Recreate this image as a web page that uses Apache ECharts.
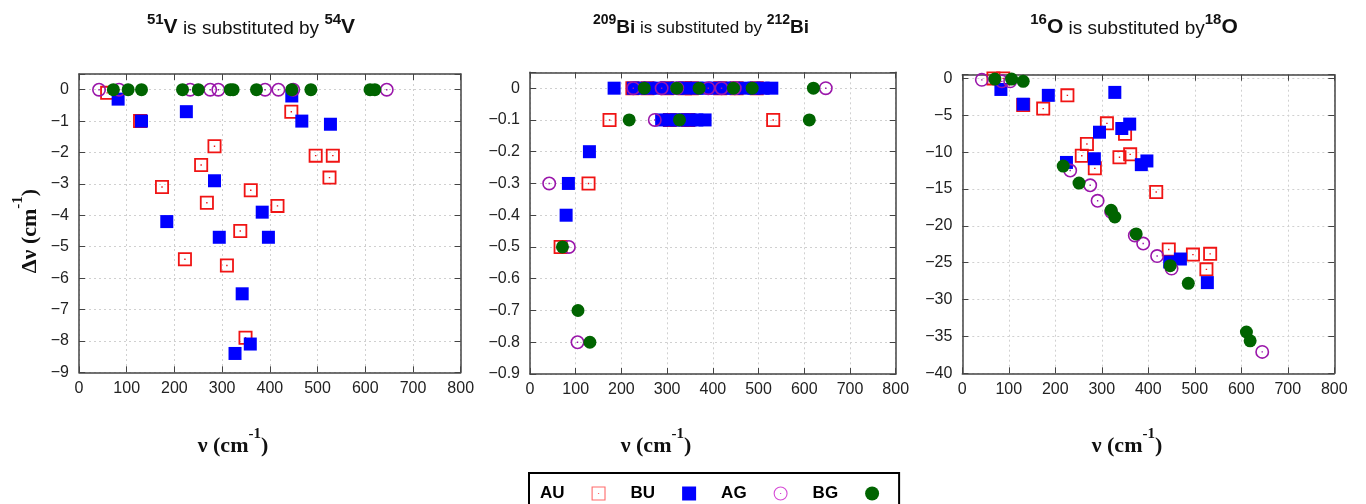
<!DOCTYPE html>
<html><head><meta charset="utf-8">
<script src="https://cdn.jsdelivr.net/npm/echarts@6/dist/echarts.min.js"></script>
<style>html,body{margin:0;padding:0;background:#fff}#c{width:1366px;height:504px}</style>
</head><body><div id="c"></div>
<script>
// ---------- data (x = ν in cm^-1, y = Δν in cm^-1) ----------
const seriesNames = ['AU', 'BU', 'AG', 'BG'];
const xTickValues = [0, 100, 200, 300, 400, 500, 600, 700, 800];

// Panel 1: 51V -> 54V
const V_AU = [[59,-0.1],[128,-1.0],[174,-3.1],[222,-5.4],[256,-2.4],[268,-3.6],[284,-1.8],[310,-5.6],[338,-4.5],[349,-7.9],[360,-3.2],[416,-3.7],[445,-0.7],[496,-2.1],[525,-2.8],[532,-2.1]];
const V_BU = [[82,-0.3],[131,-1.0],[184,-4.2],[225,-0.7],[284,-2.9],[294,-4.7],[327,-8.4],[342,-6.5],[359,-8.1],[384,-3.9],[397,-4.7],[446,-0.2],[467,-1.0],[527,-1.1]];
const V_AG = [[42,0],[84,0],[233,0],[275,0],[292,0],[390,0],[418,0],[449,0],[645,0]];
const V_BG = [[72,0],[103,0],[131,0],[217,0],[250,0],[317,0],[323,0],[372,0],[446,0],[486,0],[610,0],[620,0]];

// Panel 2: 209Bi -> 212Bi
const Bi_AU = [[224,0],[257,0],[300,0],[339,0],[354,0],[416,0],[452,0],[496,0],[174,-0.1],[306,-0.1],[346,-0.1],[532,-0.1],[128,-0.3],[67,-0.5]];
const Bi_BU = [[184,0],[226,0],[240,0],[262,0],[282,0],[300,0],[322,0],[340,0],[365,0],[385,0],[405,0],[425,0],[445,0],[470,0],[490,0],[510,0],[529,0],[288,-0.1],[305,-0.1],[320,-0.1],[335,-0.1],[350,-0.1],[365,-0.1],[383,-0.1],[130,-0.2],[84,-0.3],[79,-0.4]];
const Bi_AG = [[226,0],[288,0],[322,0],[390,0],[419,0],[448,0],[647,0],[273,-0.1],[42,-0.3],[85,-0.5],[104,-0.8]];
const Bi_BG = [[250,0],[321,0],[370,0],[445,0],[486,0],[620,0],[217,-0.1],[327,-0.1],[611,-0.1],[71,-0.5],[105,-0.7],[131,-0.8]];

// Panel 3: 16O -> 18O
const O_AU = [[67,0],[88,0],[131,-3.6],[174,-4.1],[226,-2.3],[257,-10.5],[268,-8.9],[285,-12.2],[311,-6.1],[338,-10.7],[350,-7.5],[361,-10.3],[417,-15.4],[444,-23.2],[496,-23.9],[525,-25.9],[533,-23.8]];
const O_BU = [[83,-1.5],[131,-3.5],[185,-2.3],[224,-11.4],[284,-10.9],[295,-7.3],[328,-1.9],[343,-6.8],[360,-6.2],[385,-11.7],[397,-11.2],[446,-24.9],[469,-24.5],[527,-27.7]];
const O_AG = [[42,-0.2],[85,-0.4],[103,-0.4],[232,-12.5],[275,-14.5],[291,-16.6],[320,-18.1],[371,-21.3],[389,-22.4],[419,-24.1],[450,-25.8],[645,-37.1]];
const O_BG = [[70,-0.1],[106,-0.1],[131,-0.4],[217,-11.9],[251,-14.2],[320,-17.9],[328,-18.8],[374,-21.1],[447,-25.4],[486,-27.8],[611,-34.4],[619,-35.6]];

// y-axis ranges per panel: [min, max, interval, decimals]
const yRangeV  = [-9, 0.5, 1, 0];
const yRangeBi = [-0.9, 0.05, 0.1, 1];
const yRangeO  = [-40, 0.5, 5, 0];

// ---------- styling ----------
const SQ_OPEN = 'path://M0,0H14V14H0Z M1.8,1.8V12.2H12.2V1.8Z M6.3,6.3H7.7V7.7H6.3Z';
const CIR_OPEN = 'path://M7,0A7,7 0 0 1 14,7A7,7 0 0 1 7,14A7,7 0 0 1 0,7A7,7 0 0 1 7,0Z M7,1.6A5.4,5.4 0 0 0 1.6,7A5.4,5.4 0 0 0 7,12.4A5.4,5.4 0 0 0 12.4,7A5.4,5.4 0 0 0 7,1.6Z M6.3,6.3H7.7V7.7H6.3Z';
const SQ_OPEN_L = 'path://M0,0H14V14H0Z M1.1,1.1V12.9H12.9V1.1Z M6.4,6.4H7.6V7.6H6.4Z';
const CIR_OPEN_L = 'path://M7,0A7,7 0 0 1 14,7A7,7 0 0 1 7,14A7,7 0 0 1 0,7A7,7 0 0 1 7,0Z M7,1.1A5.9,5.9 0 0 0 1.1,7A5.9,5.9 0 0 0 7,12.9A5.9,5.9 0 0 0 12.9,7A5.9,5.9 0 0 0 7,1.1Z M6.4,6.4H7.6V7.6H6.4Z';

const styles = {
  AU: {symbol: SQ_OPEN, size: 14, color: '#f01414'},
  BU: {symbol: 'rect', size: 13, color: '#0000ff'},
  AG: {symbol: CIR_OPEN, size: 14, color: '#9a16aa'},
  BG: {symbol: 'circle', size: 13, color: '#006400'}
};

const grids = [
  {left: 79, top: 74, width: 381.7, height: 298.3},
  {left: 530, top: 72.3, width: 365.7, height: 301.7},
  {left: 962.3, top: 74.7, width: 372, height: 298.6}
];

const AX = '#444';
const FONT = 'Liberation Sans, Arial, sans-serif';
const SERIF = 'Liberation Serif, Times New Roman, serif';

function yFmt(step, dec) {
  return function (v) {
    const k = Math.round(v / step);
    if (Math.abs(v - k * step) > 1e-6) return '';
    if (k === 0) return '0';
    return '\u2212' + Math.abs(k * step).toFixed(dec);
  };
}

const xAxes = [], yAxes = [];
[yRangeV, yRangeBi, yRangeO].forEach(function (r, gi) {
  xAxes.push({
    gridIndex: gi, type: 'value', min: xTickValues[0], max: xTickValues[xTickValues.length - 1],
    interval: xTickValues[1] - xTickValues[0],
    axisLine: {show: true, onZero: false, lineStyle: {color: AX, width: 1.5}},
    axisTick: {show: true, inside: true, length: 6, lineStyle: {color: AX, width: 1}},
    axisLabel: {color: '#222', fontSize: 16, fontFamily: FONT, margin: 8},
    splitLine: {show: true, lineStyle: {color: '#d0d0d0', type: [2, 3], width: 1}}
  });
  xAxes.push({
    gridIndex: gi, type: 'value', position: 'top', min: xTickValues[0], max: xTickValues[xTickValues.length - 1],
    interval: xTickValues[1] - xTickValues[0],
    axisLine: {show: true, onZero: false, lineStyle: {color: AX, width: 1.5}},
    axisTick: {show: true, inside: true, length: 6, lineStyle: {color: AX, width: 1}},
    axisLabel: {show: false}, splitLine: {show: false}
  });
  yAxes.push({
    gridIndex: gi, type: 'value', min: r[0], max: r[1], interval: r[2],
    axisLine: {show: true, onZero: false, lineStyle: {color: AX, width: 1.5}},
    axisTick: {show: true, inside: true, length: 6, lineStyle: {color: AX, width: 1}},
    axisLabel: {color: '#222', fontSize: 16, fontFamily: FONT, margin: 10, formatter: yFmt(r[2], r[3])},
    splitLine: {show: true, lineStyle: {color: '#d0d0d0', type: [2, 3], width: 1}}
  });
  yAxes.push({
    gridIndex: gi, type: 'value', position: 'right', min: r[0], max: r[1], interval: r[2],
    axisLine: {show: true, onZero: false, lineStyle: {color: AX, width: 1.5}},
    axisTick: {show: true, inside: true, length: 6, lineStyle: {color: AX, width: 1}},
    axisLabel: {show: false}, splitLine: {show: false}
  });
});

const panelData = [
  [V_AU, V_BU, V_AG, V_BG],
  [Bi_AU, Bi_BU, Bi_AG, Bi_BG],
  [O_AU, O_BU, O_AG, O_BG]
];
const series = [];
panelData.forEach(function (sets, gi) {
  sets.forEach(function (d, si) {
    const name = seriesNames[si], st = styles[name];
    series.push({
      name: name, type: 'scatter', xAxisIndex: gi * 2, yAxisIndex: gi * 2,
      data: d, symbol: st.symbol, symbolSize: st.size,
      itemStyle: {color: st.color, opacity: 1}, emphasis: {disabled: true}, z: 2 + si
    });
  });
});

function titleText(x, y, rich, text) {
  return {type: 'text', x: x, y: y, z: 100,
    style: {text: text, rich: rich, align: 'center', verticalAlign: 'middle', fill: '#111', font: '15px ' + FONT}};
}
const richBig = {
  s: {fontSize: 15, fontWeight: 'bold', fontFamily: FONT, verticalAlign: 'top', fill: '#111'},
  b: {fontSize: 21, fontWeight: 'bold', fontFamily: FONT, lineHeight: 26, verticalAlign: 'bottom', fill: '#111'},
  n: {fontSize: 19, fontFamily: FONT, verticalAlign: 'bottom', fill: '#111'}
};
const richSmall = {
  s: {fontSize: 14, fontWeight: 'bold', fontFamily: FONT, verticalAlign: 'top', fill: '#111'},
  b: {fontSize: 19, fontWeight: 'bold', fontFamily: FONT, lineHeight: 24, verticalAlign: 'bottom', fill: '#111'},
  n: {fontSize: 17, fontFamily: FONT, verticalAlign: 'bottom', fill: '#111'}
};
const richAxis = {
  b: {fontSize: 22, fontWeight: 'bold', fontFamily: SERIF, lineHeight: 30, verticalAlign: 'bottom', fill: '#111'},
  s: {fontSize: 15, fontWeight: 'bold', fontFamily: SERIF, verticalAlign: 'top', fill: '#111'}
};
const xLabel = '{b|\u03bd (cm}{s|-1}{b|)}';

const option = {
  animation: false,
  backgroundColor: '#fff',
  grid: grids,
  xAxis: xAxes,
  yAxis: yAxes,
  series: series,
  legend: {
    left: 529, top: 473, orient: 'horizontal', align: 'right',
    itemWidth: 14, itemHeight: 14, itemGap: 25,
    padding: [12, 20, 14, 11], borderColor: '#000', borderWidth: 2, backgroundColor: '#fff',
    formatter: '{t|{name}}',
    textStyle: {rich: {t: {fontSize: 17, fontWeight: 'bold', fontFamily: FONT, color: '#000', padding: [0, 22, 0, 0]}}},
    selectedMode: false,
    data: [
      {name: 'AU', icon: SQ_OPEN_L, itemStyle: {color: '#ff6a6a'}},
      {name: 'BU', icon: 'rect', itemStyle: {color: '#0000ff'}},
      {name: 'AG', icon: CIR_OPEN_L, itemStyle: {color: '#d64ad6'}},
      {name: 'BG', icon: 'circle', itemStyle: {color: '#006400'}}
    ]
  },
  graphic: [
    titleText(251, 25, richBig, '{s|51}{b|V}{n| is substituted by }{s|54}{b|V}'),
    titleText(701, 25, richSmall, '{s|209}{b|Bi}{n| is substituted by }{s|212}{b|Bi}'),
    titleText(1134, 25, richBig, '{s|16}{b|O}{n| is substituted by}{s|18}{b|O}'),
    titleText(233, 442, richAxis, xLabel),
    titleText(656, 442, richAxis, xLabel),
    titleText(1127, 442, richAxis, xLabel),
    {type: 'text', x: 26, y: 231, rotation: Math.PI / 2, z: 100,
      style: {text: '{b|\u0394\u03bd (cm}{s|-1}{b|)}', rich: richAxis, align: 'center', verticalAlign: 'middle', fill: '#111'}}
  ]
};

const chart = echarts.init(document.getElementById('c'), null, {renderer: 'canvas'});
chart.setOption(option);
</script>
</body></html>
